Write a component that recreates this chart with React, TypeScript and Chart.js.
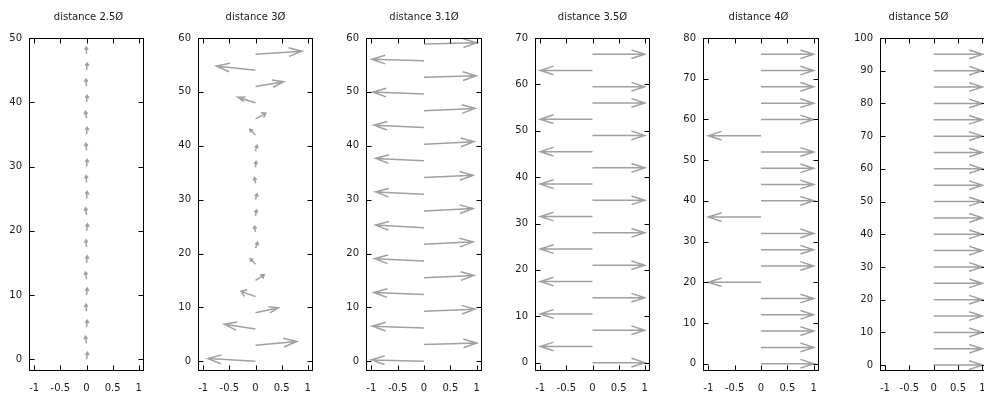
import { useEffect, useRef } from "react";
import { Chart, registerables } from "chart.js";

Chart.register(...registerables);

// ---------- data ----------
const titles = ["distance 2.5Ø", "distance 3Ø", "distance 3.1Ø", "distance 3.5Ø", "distance 4Ø", "distance 5Ø"];
const xTicks = [-1, -0.5, 0, 0.5, 1];
const yTicks1 = [0, 10, 20, 30, 40, 50];
const yTicks2 = [0, 10, 20, 30, 40, 50, 60];
const yTicks3 = [0, 10, 20, 30, 40, 50, 60];
const yTicks4 = [0, 10, 20, 30, 40, 50, 60, 70];
const yTicks5 = [0, 10, 20, 30, 40, 50, 60, 70, 80];
const yTicks6 = [0, 10, 20, 30, 40, 50, 60, 70, 80, 90, 100];
const yMin = -1.8;
const yMax = [50, 60, 60, 70, 80, 100];

// panel 1: distance 2.5
const p1Y = [0, 2.5, 5, 7.5, 10, 12.5, 15, 17.5, 20, 22.5, 25, 27.5, 30, 32.5, 35, 37.5, 40, 42.5, 45, 47.5];
const p1Dx = [0.02, -0.02, 0.015, -0.01, 0.015, -0.02, 0.015, -0.01, 0.02, -0.02, 0.015, -0.005, 0.015, -0.01, 0.015, -0.02, 0.015, -0.01, 0.015, -0.005];
const p1Dy = [1.1, 1.1, 1.1, 1.1, 1.1, 1.1, 1.1, 1.1, 1.1, 1.1, 1.1, 1.1, 1.1, 1.1, 1.1, 1.1, 1.1, 1.1, 1.1, 1.1];

// panel 2: distance 3
const p2Y = [0, 3, 6, 9, 12, 15, 18, 21, 24, 27, 30, 33, 36, 39, 42, 45, 48, 51, 54, 57];
const p2Dx = [-0.91, 0.79, -0.6, 0.44, -0.28, 0.17, -0.1, 0.04, -0.02, 0.02, 0.03, -0.02, 0.01, 0.03, -0.11, 0.2, -0.34, 0.54, -0.75, 0.89];
const p2Dy = [0.5, 0.68, 0.88, 0.92, 1.0, 1.05, 1.05, 1.1, 1.1, 1.1, 1.1, 1.1, 1.1, 1.1, 1.05, 1.05, 1.0, 0.9, 0.8, 0.55];

// panel 3: distance 3.1
const p3Y = [0, 3.1, 6.2, 9.3, 12.4, 15.5, 18.6, 21.7, 24.8, 27.9, 31, 34.1, 37.2, 40.3, 43.4, 46.5, 49.6, 52.7, 55.8, 58.9];
const p3Dx = [-1.0, 1.0, -0.98, 0.97, -0.95, 0.95, -0.94, 0.93, -0.92, 0.93, -0.92, 0.93, -0.92, 0.95, -0.95, 0.97, -0.97, 0.99, -0.99, 1.0];
const p3Dy = [0.26, 0.3, 0.32, 0.37, 0.37, 0.43, 0.45, 0.47, 0.48, 0.45, 0.43, 0.43, 0.45, 0.45, 0.43, 0.42, 0.37, 0.3, 0.26, 0.2];

// panel 4: distance 3.5
const p4Y = [0, 3.5, 7, 10.5, 14, 17.5, 21, 24.5, 28, 31.5, 35, 38.5, 42, 45.5, 49, 52.5, 56, 59.5, 63, 66.5];
const p4Dx = [1, -1, 1, -1, 1, -1, 1, -1, 1, -1, 1, -1, 1, -1, 1, -1, 1, 1, -1, 1];
const p4Dy = [0, 0, 0, 0, 0, 0, 0, 0, 0, 0, 0, 0, 0, 0, 0, 0, 0, 0, 0, 0];

// panel 5: distance 4
const p5Y = [0, 4, 8, 12, 16, 20, 24, 28, 32, 36, 40, 44, 48, 52, 56, 60, 64, 68, 72, 76];
const p5Dx = [1, 1, 1, 1, 1, -1, 1, 1, 1, -1, 1, 1, 1, 1, -1, 1, 1, 1, 1, 1];
const p5Dy = [0, 0, 0, 0, 0, 0, 0, 0, 0, 0, 0, 0, 0, 0, 0, 0, 0, 0, 0, 0];

// panel 6: distance 5
const p6Y = [0, 5, 10, 15, 20, 25, 30, 35, 40, 45, 50, 55, 60, 65, 70, 75, 80, 85, 90, 95];
const p6Dx = [1, 1, 1, 1, 1, 1, 1, 1, 1, 1, 1, 1, 1, 1, 1, 1, 1, 1, 1, 1];
const p6Dy = [0, 0, 0, 0, 0, 0, 0, 0, 0, 0, 0, 0, 0, 0, 0, 0, 0, 0, 0, 0];

// ---------- layout / style ----------
const FONT = "'DejaVu Sans', Verdana, sans-serif";
const TEXT = "#1a1a1a";
const ARROW = "#a0a0a0";
const SIDE = 40;
const H = 394;

type Vec = { x: number; y: number; dx: number; dy: number };

function build(ys: number[], dxs: number[], dys: number[]): Vec[] {
  return ys.map((y, i) => ({ x: 0, y, dx: dxs[i], dy: dys[i] }));
}

const panels = [
  { title: titles[0], left: 29, width: 115, right: 44, yMax: yMax[0], yTicks: yTicks1, data: build(p1Y, p1Dx, p1Dy) },
  { title: titles[1], left: 198, width: 115, right: 40, yMax: yMax[1], yTicks: yTicks2, data: build(p2Y, p2Dx, p2Dy) },
  { title: titles[2], left: 366, width: 116, right: 40, yMax: yMax[2], yTicks: yTicks3, data: build(p3Y, p3Dx, p3Dy) },
  { title: titles[3], left: 535, width: 115, right: 40, yMax: yMax[3], yTicks: yTicks4, data: build(p4Y, p4Dx, p4Dy) },
  { title: titles[4], left: 703, width: 116, right: 35, yMax: yMax[4], yTicks: yTicks5, data: build(p5Y, p5Dx, p5Dy) },
  { title: titles[5], left: 880, width: 109, right: 8, yMax: yMax[5], yTicks: yTicks6, data: build(p6Y, p6Dx, p6Dy) },
];

const arrowPlugin = {
  id: "arrows",
  afterDatasetsDraw(chart: any) {
    const ctx = chart.ctx as CanvasRenderingContext2D;
    const xs = chart.scales.x;
    const ys = chart.scales.y;
    ctx.save();
    ctx.strokeStyle = ARROW;
    ctx.lineWidth = 1.5;
    ctx.lineCap = "butt";
    ctx.lineJoin = "miter";
    chart.data.datasets.forEach((ds: any, i: number) => {
      const meta = chart.getDatasetMeta(i);
      meta.data.forEach((el: any, j: number) => {
        const p = ds.data[j] as Vec;
        const x0 = el.x;
        const y0 = el.y;
        const x1 = xs.getPixelForValue(p.x + p.dx);
        const y1 = ys.getPixelForValue(p.y + p.dy);
        const len = Math.hypot(x1 - x0, y1 - y0);
        if (len < 0.5) return;
        const ang = Math.atan2(y1 - y0, x1 - x0);
        const head = Math.max(3.2, Math.min(14, len * 0.42));
        const spread = ((len < 16 ? 34 : 18) * Math.PI) / 180;
        ctx.beginPath();
        ctx.moveTo(x0, y0);
        ctx.lineTo(x1, y1);
        ctx.moveTo(x1 - head * Math.cos(ang - spread), y1 - head * Math.sin(ang - spread));
        ctx.lineTo(x1, y1);
        ctx.lineTo(x1 - head * Math.cos(ang + spread), y1 - head * Math.sin(ang + spread));
        ctx.stroke();
      });
    });
    ctx.restore();
  },
};

const framePlugin = {
  id: "frame",
  afterDraw(chart: any) {
    const ctx = chart.ctx as CanvasRenderingContext2D;
    const a = chart.chartArea;
    const xs = chart.scales.x;
    const ys = chart.scales.y;
    const L = Math.round(a.left) + 0.5;
    const R = Math.round(a.right) - 0.5;
    const T = Math.round(a.top) + 0.5;
    const B = Math.round(a.bottom) - 0.5;
    const tl = 5;
    ctx.save();
    ctx.strokeStyle = "#000";
    ctx.lineWidth = 1;
    ctx.strokeRect(L, T, R - L, B - T);
    ctx.beginPath();
    xs.ticks.forEach((t: any) => {
      const px = Math.round(xs.getPixelForValue(t.value)) + 0.5;
      ctx.moveTo(px, B);
      ctx.lineTo(px, B - tl);
      ctx.moveTo(px, T);
      ctx.lineTo(px, T + tl);
    });
    ys.ticks.forEach((t: any) => {
      const py = Math.round(ys.getPixelForValue(t.value)) + 0.5;
      ctx.moveTo(L, py);
      ctx.lineTo(L + tl, py);
      ctx.moveTo(R, py);
      ctx.lineTo(R - tl, py);
    });
    ctx.stroke();
    ctx.restore();
  },
};

function Panel({ cfg }: { cfg: (typeof panels)[number] }) {
  const ref = useRef<HTMLCanvasElement | null>(null);
  const w = SIDE + cfg.width + cfg.right;
  useEffect(() => {
    if (!ref.current) return;
    const chart = new Chart(ref.current, {
      type: "scatter",
      data: {
        datasets: [
          {
            data: cfg.data as any,
            pointRadius: 0,
            pointHoverRadius: 0,
            showLine: false,
          },
        ],
      },
      options: {
        animation: false,
        responsive: false,
        maintainAspectRatio: false,
        events: [],
        layout: { padding: 0 },
        plugins: {
          legend: { display: false },
          tooltip: { enabled: false },
          title: {
            display: true,
            text: cfg.title,
            color: TEXT,
            font: { family: FONT, size: 10, weight: "normal" as any },
            padding: { top: 11, bottom: 15 },
          },
        },
        scales: {
          x: {
            type: "linear",
            min: -1.1,
            max: 1.1,
            afterBuildTicks: (s: any) => {
              s.ticks = xTicks.map((v) => ({ value: v }));
            },
            afterFit: (s: any) => {
              s.height = 23;
            },
            grid: { display: false, drawTicks: false },
            border: { display: false },
            ticks: {
              autoSkip: false,
              maxRotation: 0,
              minRotation: 0,
              padding: 11,
              color: TEXT,
              font: { family: FONT, size: 10 },
              callback: (v: any) => String(v),
            },
          },
          y: {
            type: "linear",
            position: "left",
            min: yMin,
            max: cfg.yMax,
            afterBuildTicks: (s: any) => {
              s.ticks = cfg.yTicks.map((v) => ({ value: v }));
            },
            afterFit: (s: any) => {
              s.width = SIDE;
            },
            grid: { display: false, drawTicks: false },
            border: { display: false },
            ticks: {
              autoSkip: false,
              padding: 7,
              color: TEXT,
              font: { family: FONT, size: 10 },
              callback: (v: any) => String(v),
            },
          },
          ySpacer: {
            type: "linear",
            position: "right",
            display: true,
            afterFit: (s: any) => {
              s.width = cfg.right;
            },
            grid: { display: false, drawTicks: false },
            border: { display: false },
            ticks: { display: false },
          },
        },
      },
      plugins: [arrowPlugin, framePlugin],
    });
    return () => chart.destroy();
  }, []);
  return (
    <canvas
      ref={ref}
      width={w}
      height={H}
      style={{ position: "absolute", left: cfg.left - SIDE, top: 0, width: w, height: H }}
    />
  );
}

export default function App() {
  return (
    <div
      style={{
        position: "absolute",
        left: 0,
        top: 0,
        width: 984,
        height: H,
        overflow: "hidden",
        background: "#fff",
      }}
    >
      {panels.map((p, i) => (
        <Panel key={i} cfg={p} />
      ))}
    </div>
  );
}
